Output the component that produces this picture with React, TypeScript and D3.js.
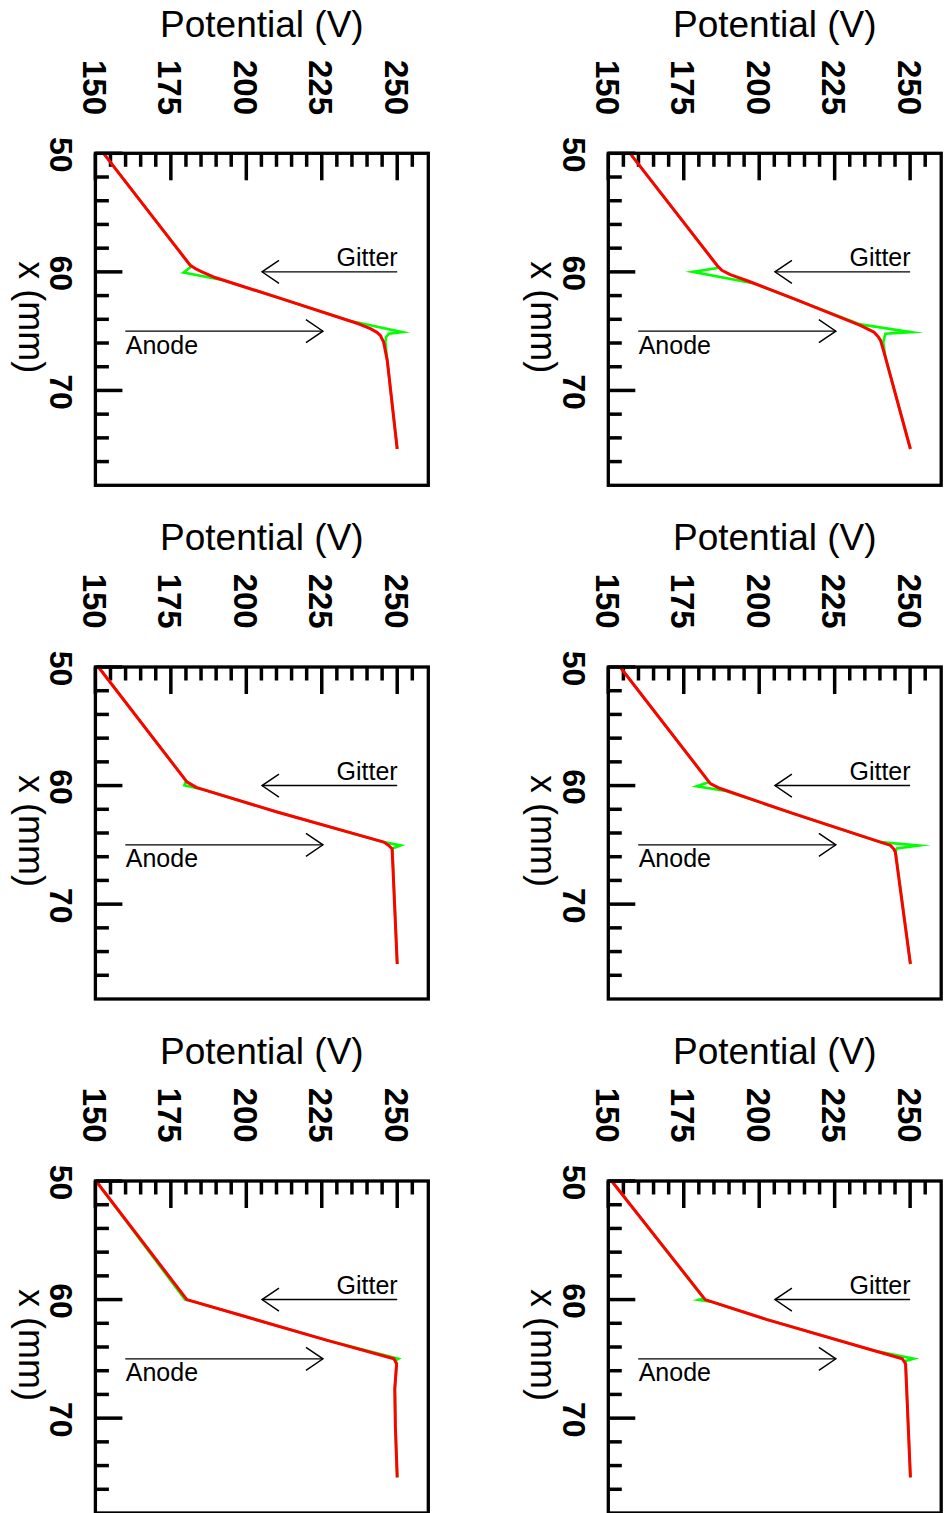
import React from 'react';
import * as d3 from 'd3';

// ---- axes ----
const potentialDomain: [number, number] = [150, 260.3];
const xDomain: [number, number] = [50, 78];
const potentialMajor = [150, 175, 200, 225, 250];
const potentialMinor = [155, 160, 165, 170, 180, 185, 190, 195, 205, 210, 215, 220, 230, 235, 240, 245, 255];
const xMajor = [50, 60, 70];
const xMinor = [52, 54, 56, 58, 62, 64, 66, 68, 72, 74, 76];

// ---- annotations: [x (mm), from V, to V] ----
const gitterArrow: [number, number, number] = [60, 250, 205.2];
const anodeArrow: [number, number, number] = [65, 159.9, 225.4];

type P = [number, number]; // [x (mm), potential (V)]

// top-left
const redTL: P[] = [[50, 152.7], [59.44, 181.4], [59.72, 183.1], [60.0, 185.3], [60.43, 189.1], [62.26, 211.6], [64.4, 237.4], [64.79, 241.1], [65.1, 243.3], [65.36, 244.4], [65.93, 245.5], [67.47, 246.7], [74.94, 250]];
const greenTL: P[] = [[50, 152.7], [59.44, 181.4], [59.59, 181.6], [60.06, 179.2], [60.71, 192.5], [62.26, 211.6], [64.15, 234.5], [64.32, 237.6], [65.08, 251.7], [65.22, 247.2], [65.5, 246.3], [65.93, 246.1], [67.47, 246.7], [74.94, 250]];
// top-right
const redTR: P[] = [[50, 157.2], [59.44, 186], [59.86, 187.6], [60.23, 190.4], [60.79, 196.5], [62.26, 211.4], [64.51, 233.5], [65.08, 238], [65.5, 239.5], [65.78, 240.2], [67.19, 241.8], [74.94, 250.1]];
const greenTR: P[] = [[50, 157.2], [59.44, 186], [59.67, 186.2], [60.0, 178], [60.95, 198], [62.26, 211.4], [64.43, 233.5], [65.08, 250.4], [65.22, 241.8], [65.93, 241.1], [67.19, 241.8], [74.94, 250.1]];
// middle-left
const redML: P[] = [[50, 151], [59.69, 180.3], [60.17, 183.6], [62.23, 210.2], [64.77, 245.6], [65.05, 247.2], [65.33, 248.3], [75.05, 250]];
const greenML: P[] = [[50, 151], [59.6, 180.1], [59.97, 179.5], [60.3, 185.2], [62.23, 210.2], [64.77, 245.6], [65.05, 251.1], [65.3, 248.4], [75.05, 250]];
// middle-right
const redMR: P[] = [[50, 153.9], [59.83, 183.8], [60.25, 187.1], [62.37, 211.4], [64.77, 240.2], [65.05, 243.5], [65.35, 244.6], [65.61, 245.1], [75.05, 250.1]];
const greenMR: P[] = [[50, 153.9], [59.7, 183.4], [60.06, 179.3], [60.45, 189], [62.37, 211.4], [64.77, 240.2], [65.05, 252.9], [65.3, 245.6], [65.61, 245.2], [75.05, 250.1]];
// bottom-left
const redBL: P[] = [[50, 150.2], [60, 180.3], [61.47, 200.2], [63.44, 226.8], [64.99, 248.9], [65.41, 249.8], [67.5, 249.2], [70.77, 249.4], [75, 250]];
const greenBL: P[] = [[50, 150.2], [60, 179.7], [60.15, 182.2], [61.47, 200.2], [63.44, 226.8], [64.99, 250.4], [65.15, 249.4], [65.41, 249.8], [67.5, 249.2], [70.77, 249.4], [75, 250]];
// bottom-right
const redBR: P[] = [[50, 151.1], [60, 182.1], [61.69, 202.6], [64.29, 237.9], [64.99, 247.4], [65.41, 248.5], [75, 250.1]];
const greenBR: P[] = [[50, 151.1], [59.9, 181.6], [60.02, 179.9], [60.2, 184.4], [61.69, 202.6], [64.29, 237.9], [64.99, 251.2], [65.2, 248.2], [65.41, 248.5], [75, 250.1]];

const panels = [
  { col: 0, row: 0, red: redTL, green: greenTL },
  { col: 1, row: 0, red: redTR, green: greenTR },
  { col: 0, row: 1, red: redML, green: greenML },
  { col: 1, row: 1, red: redMR, green: greenMR },
  { col: 0, row: 2, red: redBL, green: greenBL },
  { col: 1, row: 2, red: redBR, green: greenBR },
];

const W = 946;
const H = 1513;
const colOffset = [0, 512.9];
const rowOffset = [0, 513.7, 1027.7];
const FL = 95.4, FT = 153.3, FW = 332.9, FH = 332;
const FONT = "'Liberation Sans', Arial, Helvetica, sans-serif";

function Panel({ col, row, red, green }: { col: number; row: number; red: P[]; green: P[] }) {
  const ox = colOffset[col];
  const oy = rowOffset[row];
  const sx = d3.scaleLinear().domain(potentialDomain).range([FL, FL + FW]);
  const sy = d3.scaleLinear().domain(xDomain).range([FT, FT + FH]);
  const line = d3.line<P>().x((d) => sx(d[1])).y((d) => sy(d[0])).curve(d3.curveLinear);

  const gy = sy(gitterArrow[0]);
  const gx0 = sx(gitterArrow[1]);
  const gx1 = sx(gitterArrow[2]);
  const ay = sy(anodeArrow[0]);
  const ax0 = sx(anodeArrow[1]);
  const ax1 = sx(anodeArrow[2]);
  const hb = 17, hs = 11.5;

  return (
    <g transform={`translate(${ox},${oy})`}>
      <text x={FL + FW / 2} y={FT - 116.6} textAnchor="middle" fontSize={37} fontFamily={FONT} fill="#000">
        Potential (V)
      </text>
      <text transform={`translate(18.5,${FT + FH / 2 - 2}) rotate(90)`} textAnchor="middle" fontSize={36} fontFamily={FONT} fill="#000">
        x (mm)
      </text>
      {potentialMajor.map((v) => (
        <text key={`pl${v}`} transform={`translate(${sx(v) - 12.5},${FT - 38.3}) rotate(90)`} textAnchor="end" fontSize={33} fontWeight="bold" fontFamily={FONT} fill="#000">
          {v}
        </text>
      ))}
      {xMajor.map((v) => (
        <text key={`xl${v}`} transform={`translate(50,${sy(v) + 1.5}) rotate(90)`} textAnchor="middle" fontSize={32} fontWeight="bold" fontFamily={FONT} fill="#000">
          {v}
        </text>
      ))}
      {potentialMajor.map((v) => (
        <line key={`pt${v}`} x1={sx(v)} x2={sx(v)} y1={FT} y2={FT + 27} stroke="#000" strokeWidth={3.5} />
      ))}
      {potentialMinor.map((v) => (
        <line key={`pm${v}`} x1={sx(v)} x2={sx(v)} y1={FT} y2={FT + 13.5} stroke="#000" strokeWidth={3.5} />
      ))}
      {xMajor.map((v) => (
        <line key={`xt${v}`} y1={sy(v)} y2={sy(v)} x1={FL} x2={FL + 27} stroke="#000" strokeWidth={3.5} />
      ))}
      {xMinor.map((v) => (
        <line key={`xm${v}`} y1={sy(v)} y2={sy(v)} x1={FL} x2={FL + 13.5} stroke="#000" strokeWidth={3.5} />
      ))}
      <path d={line(green) || ''} fill="none" stroke="#00ff00" strokeWidth={2.6} strokeLinejoin="miter" strokeMiterlimit={20} />
      <path d={line(red) || ''} fill="none" stroke="#ff0000" strokeWidth={3} strokeLinejoin="round" />
      <line x1={gx0} x2={gx1} y1={gy} y2={gy} stroke="#000" strokeWidth={1.4} />
      <path d={`M${gx1 + hb},${gy - hs}L${gx1},${gy}L${gx1 + hb},${gy + hs}`} fill="none" stroke="#000" strokeWidth={1.4} />
      <text x={gx0 + 0.5} y={gy - 5.5} textAnchor="end" fontSize={25} fontFamily={FONT} fill="#000">Gitter</text>
      <line x1={ax0} x2={ax1} y1={ay} y2={ay} stroke="#000" strokeWidth={1.4} />
      <path d={`M${ax1 - hb},${ay - hs}L${ax1},${ay}L${ax1 - hb},${ay + hs}`} fill="none" stroke="#000" strokeWidth={1.4} />
      <text x={ax0 + 0.5} y={ay + 22.5} textAnchor="start" fontSize={25} fontFamily={FONT} fill="#000">Anode</text>
      <rect x={FL} y={FT} width={FW} height={FH} fill="none" stroke="#000" strokeWidth={3.3} />
    </g>
  );
}

export default function App() {
  return (
    <svg
      width={W}
      height={H}
      viewBox={`0 0 ${W} ${H}`}
      style={{ position: 'absolute', left: 0, top: 0, background: '#fff' }}
    >
      <rect x={0} y={0} width={W} height={H} fill="#fff" />
      {panels.map((p, i) => (
        <Panel key={i} {...p} />
      ))}
    </svg>
  );
}
